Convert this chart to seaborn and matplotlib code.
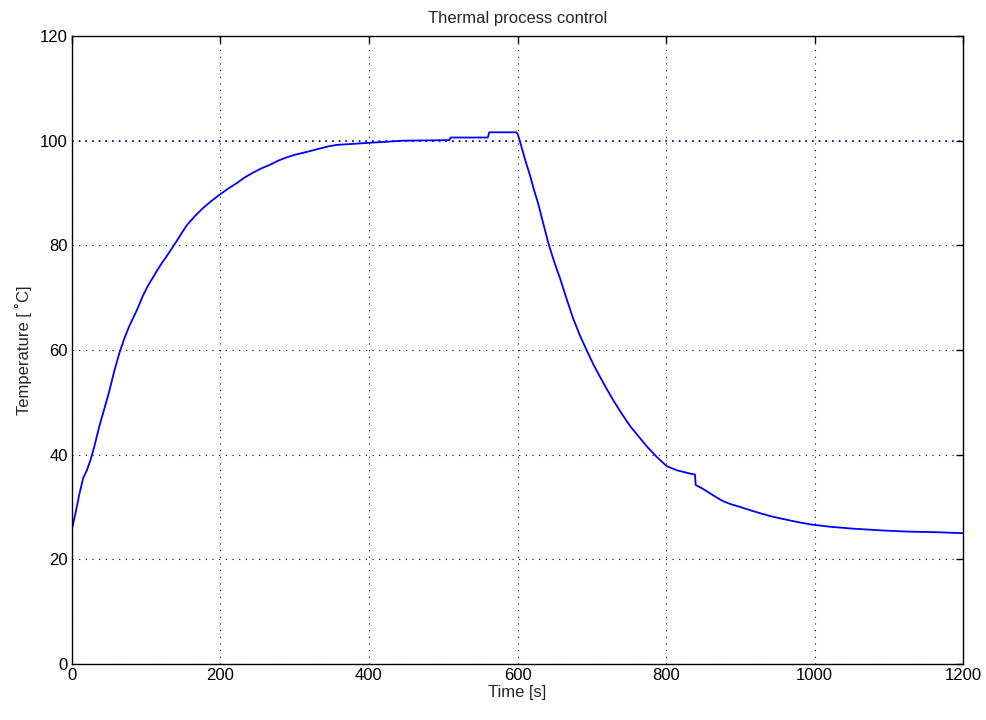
import matplotlib
matplotlib.use("Agg")
import matplotlib.pyplot as plt
import seaborn as sns
import pandas as pd

time_s = [0, 5, 10, 15, 20, 25, 30, 37, 44, 50, 57, 64, 70, 77, 88, 95, 102, 113, 120,
          127, 134, 140, 148, 155, 165, 177, 188, 199, 210, 222, 233, 244, 255, 267,
          278, 289, 300, 312, 323, 334, 345, 357, 380, 401, 425, 446, 508, 510, 560,
          562, 598, 600, 603, 606, 611, 617, 622, 628, 635, 642, 650, 658, 666, 675,
          684, 693, 702, 711, 720, 729, 740, 752, 763, 774, 788, 801, 815, 832, 839,
          840, 848, 855, 866, 877, 888, 900, 913, 927, 942, 958, 978, 998, 1023, 1048,
          1070, 1093, 1125, 1160, 1200]
temp_c = [25.8, 29.0, 32.5, 35.5, 37.0, 39.0, 41.5, 45.5, 49.0, 52.0, 56.0, 59.5, 62.0,
          64.5, 67.8, 70.2, 72.2, 74.8, 76.4, 77.8, 79.3, 80.6, 82.4, 83.9, 85.5, 87.2,
          88.5, 89.7, 90.8, 91.9, 93.0, 93.9, 94.7, 95.4, 96.2, 96.8, 97.3, 97.7, 98.1,
          98.5, 98.9, 99.2, 99.4, 99.6, 99.8, 100.0, 100.1, 100.6, 100.6, 101.6, 101.6,
          101.4, 100.0, 98.5, 96.0, 93.3, 90.7, 87.9, 84.0, 80.2, 76.6, 73.4, 69.8, 66.0,
          62.8, 60.0, 57.3, 54.9, 52.6, 50.4, 47.9, 45.4, 43.5, 41.6, 39.5, 37.8, 37.0,
          36.4, 36.2, 34.2, 33.6, 33.0, 32.0, 31.1, 30.5, 30.0, 29.4, 28.8, 28.2, 27.7,
          27.1, 26.6, 26.2, 25.9, 25.7, 25.5, 25.3, 25.2, 25.0]

setpoint_t = [0, 1200]
setpoint_c = [100, 100]

x_ticks = [0, 200, 400, 600, 800, 1000, 1200]
y_ticks = [0, 20, 40, 60, 80, 100, 120]

df = pd.DataFrame({"time": time_s, "temp": temp_c})

sns.set_style("white")
plt.rcParams["font.family"] = ["Liberation Sans", "DejaVu Sans"]

fig = plt.figure(figsize=(9.86, 7.2), dpi=100)
ax = fig.add_axes([0.073, 0.0778, 0.9037, 0.8722])

sns.lineplot(data=df, x="time", y="temp", color="#0000ff", linewidth=1.3,
             estimator=None, sort=False, ax=ax)
sns.lineplot(x=setpoint_t, y=setpoint_c, color="#0000ff", linewidth=1.2,
             linestyle=(0, (1, 3)), ax=ax)

ax.set_xlim(0, 1200)
ax.set_ylim(0, 120)
ax.set_xticks(x_ticks)
ax.set_yticks(y_ticks)
ax.grid(True, color="black", linestyle=(0, (1, 5)), linewidth=0.8)
ax.tick_params(direction="in", length=5, width=1, top=True, right=True,
               labelsize=12, colors="black", pad=3)
for s in ax.spines.values():
    s.set_color("black")
    s.set_linewidth(1)

ax.set_title("Thermal process control", fontsize=12, pad=9)
ax.set_xlabel("Time [s]", fontsize=12, labelpad=1)
ax.set_ylabel("Temperature [ ˚C]", fontsize=12, labelpad=6)

plt.savefig("out.png", dpi=100)
